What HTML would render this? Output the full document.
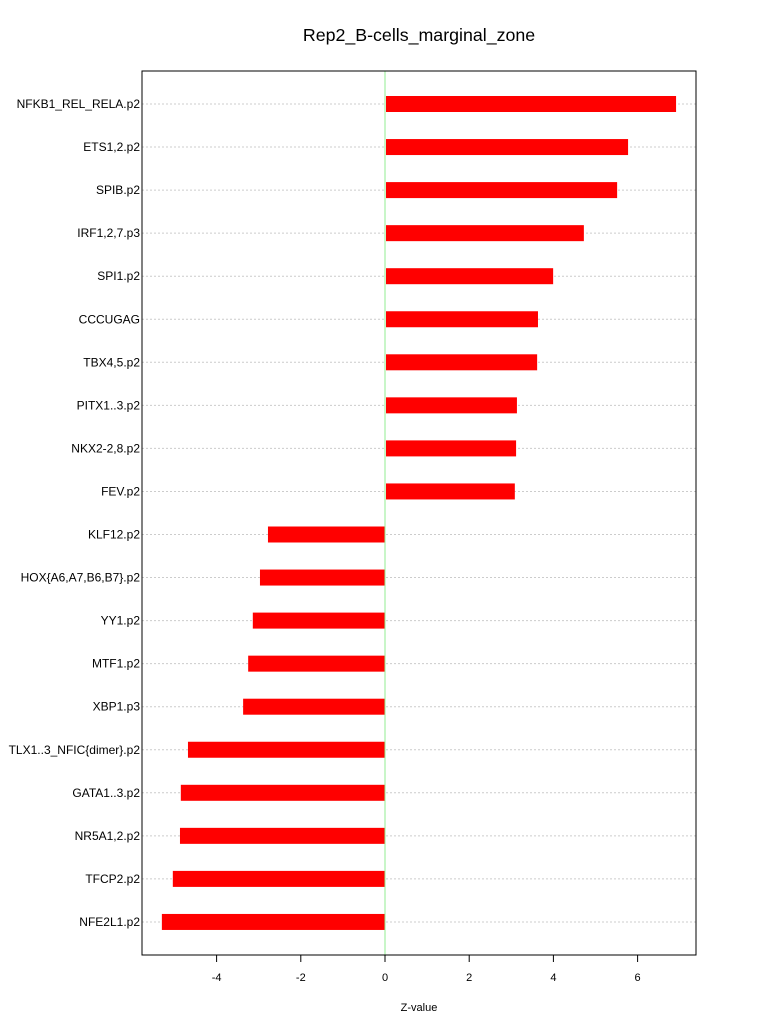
<!DOCTYPE html>
<html><head><meta charset="utf-8"><style>
body{margin:0;background:#fff;font-family:"Liberation Sans",sans-serif;}
</style></head><body>
<svg id="chart" width="768" height="1028" xmlns="http://www.w3.org/2000/svg" font-family="Liberation Sans, sans-serif"></svg>
<script>
const categories=["NFKB1_REL_RELA.p2","ETS1,2.p2","SPIB.p2","IRF1,2,7.p3","SPI1.p2","CCCUGAG","TBX4,5.p2","PITX1..3.p2","NKX2-2,8.p2","FEV.p2","KLF12.p2","HOX{A6,A7,B6,B7}.p2","YY1.p2","MTF1.p2","XBP1.p3","TLX1..3_NFIC{dimer}.p2","GATA1..3.p2","NR5A1,2.p2","TFCP2.p2","NFE2L1.p2"];
const values=[6.89,5.75,5.49,4.70,3.97,3.61,3.59,3.11,3.09,3.06,-2.78,-2.97,-3.14,-3.25,-3.37,-4.68,-4.85,-4.87,-5.04,-5.30];
const xTicks=[-4,-2,0,2,4,6];
const svg=document.getElementById('chart');
const NS='http://www.w3.org/2000/svg';
const x=v=>385+v*42.1;
const y=i=>104+i*43.05;
function mk(t,a,txt){const e=document.createElementNS(NS,t);for(const k in a)e.setAttribute(k,a[k]);if(txt!==undefined)e.textContent=txt;svg.appendChild(e);return e;}
let e;
e=mk('text',{x:419,y:41,'font-size':17.8,'text-anchor':'middle'},'Rep2_B-cells_marginal_zone');


categories.forEach((c,i)=>{
 e=mk('line',{x1:142,x2:696,y1:y(i),y2:y(i),stroke:'#ccc','stroke-dasharray':'2,2'});
 
 
});
values.forEach((v,i)=>{
 e=mk('rect',{x:Math.min(x(0),x(v))+(v>0?1:0),y:y(i)-8,width:Math.abs(x(v)-x(0)),height:16,fill:'#ff0000'});
 
 
 e=mk('text',{x:140,y:y(i)+4,'font-size':12,'text-anchor':'end'},categories[i]);
 
 
});
e=mk('line',{x1:x(0),x2:x(0),y1:71,y2:955,stroke:'#90ee90'});


e=mk('rect',{x:142,y:71,width:554,height:884,fill:'none',stroke:'#000'});


e=mk('line',{x1:x(xTicks[0]),x2:x(xTicks[xTicks.length-1]),y1:955,y2:955,stroke:'#000'});


xTicks.forEach(t=>{
 e=mk('line',{x1:x(t),x2:x(t),y1:955,y2:962,stroke:'#000'});
 
 
 e=mk('text',{x:x(t),y:981,'font-size':11,'text-anchor':'middle'},String(t));
 
 
});
e=mk('text',{x:419,y:1011,'font-size':11,'text-anchor':'middle'},'Z-value');


</script>
</body></html>
